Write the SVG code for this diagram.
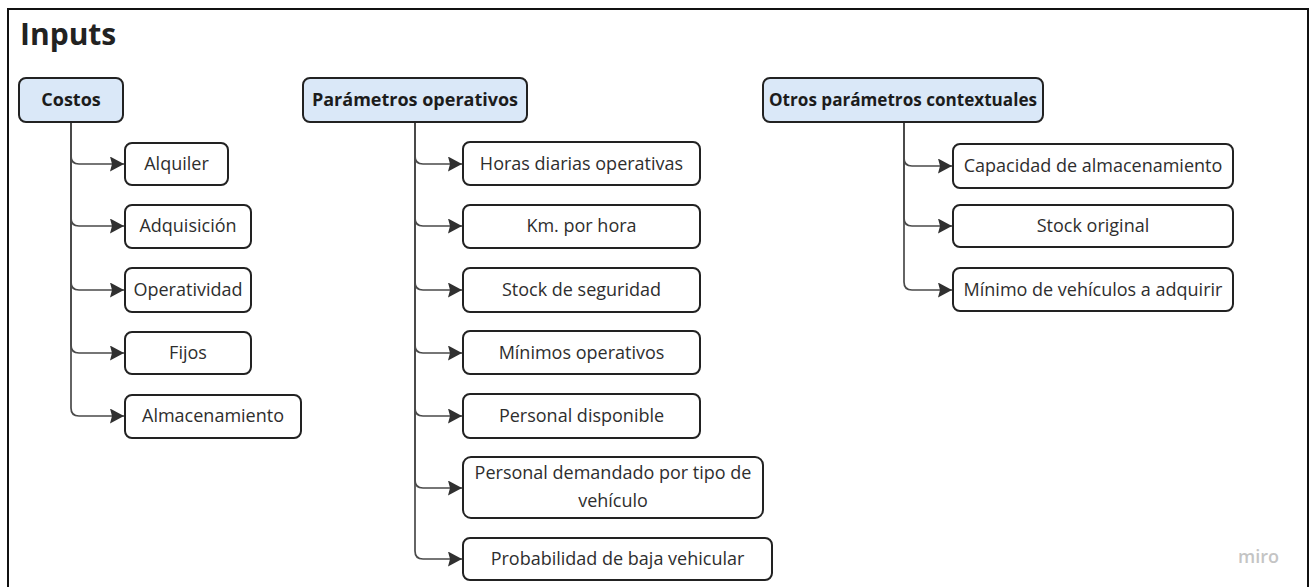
<svg xmlns="http://www.w3.org/2000/svg" width="1311" height="587" viewBox="0 0 1311 587">
  <defs>
    <style>
      .frame { fill: #ffffff; stroke: #111111; stroke-width: 2; }
      .title { font-family: "Open Sans", "Liberation Sans", sans-serif; font-weight: 700; font-size: 30px; fill: #222222; }
      .hdr rect { fill: #dae8f8; stroke: #222222; stroke-width: 2; }
      .hdr text { font-family: "Open Sans", "Liberation Sans", sans-serif; font-weight: 700; font-size: 18px; fill: #1c1c1c; text-anchor: middle; }
      .leaf rect { fill: #ffffff; stroke: #222222; stroke-width: 2; }
      .leaf text { font-family: "Open Sans", "Liberation Sans", sans-serif; font-size: 18px; fill: #2e2e2e; text-anchor: middle; }
      .conn path { fill: none; stroke: #4a4a4a; stroke-width: 1.7; marker-end: url(#arr); }
      .logo { font-family: "Open Sans", "Liberation Sans", sans-serif; font-size: 18px; font-weight: 600; fill: #c4c4c4; }
    </style>
    <marker id="arr" markerUnits="userSpaceOnUse" markerWidth="18" markerHeight="18" refX="14" refY="7.5" orient="auto">
      <path d="M0,0 L14,7.5 L0,15 L2,7.5 Z" fill="#303030"/>
    </marker>
  </defs>

  <rect class="frame" x="8" y="9" width="1300" height="590"/>
  <text class="title" x="20" y="45">Inputs</text>

  <g id="connectors" class="conn">
    <path d="M71,122 V156 Q71,164 79,164 H124"/>
    <path d="M71,122 V218 Q71,226 79,226 H124"/>
    <path d="M71,122 V282 Q71,290 79,290 H124"/>
    <path d="M71,122 V345 Q71,353 79,353 H124"/>
    <path d="M71,122 V408 Q71,416 79,416 H124"/>

    <path d="M415,122 V156 Q415,164 423,164 H462"/>
    <path d="M415,122 V218 Q415,226 423,226 H462"/>
    <path d="M415,122 V282 Q415,290 423,290 H462"/>
    <path d="M415,122 V345 Q415,353 423,353 H462"/>
    <path d="M415,122 V408 Q415,416 423,416 H462"/>
    <path d="M415,122 V480 Q415,488 423,488 H462"/>
    <path d="M415,122 V551 Q415,559 423,559 H462"/>

    <path d="M904,122 V158 Q904,166 912,166 H952"/>
    <path d="M904,122 V218 Q904,226 912,226 H952"/>
    <path d="M904,122 V282 Q904,290 912,290 H952"/>
  </g>

  <g id="costos" class="hdr">
    <rect x="19" y="78" width="104" height="44" rx="7"/>
    <text x="71" y="106">Costos</text>
  </g>
  <g id="parametros" class="hdr">
    <rect x="303" y="78" width="224" height="44" rx="7"/>
    <text x="415" y="106">Parámetros operativos</text>
  </g>
  <g id="otros" class="hdr">
    <rect x="763" y="78" width="280" height="44" rx="7"/>
    <text x="903" y="106" textLength="268" lengthAdjust="spacingAndGlyphs">Otros parámetros contextuales</text>
  </g>

  <g id="alquiler" class="leaf">
    <rect x="125" y="143" width="103" height="42" rx="7"/>
    <text x="176.5" y="170">Alquiler</text>
  </g>
  <g id="adquisicion" class="leaf">
    <rect x="125" y="205" width="126" height="43" rx="7"/>
    <text x="188" y="232">Adquisición</text>
  </g>
  <g id="operatividad" class="leaf">
    <rect x="125" y="268" width="126" height="44" rx="7"/>
    <text x="188" y="296">Operatividad</text>
  </g>
  <g id="fijos" class="leaf">
    <rect x="125" y="332" width="126" height="42" rx="7"/>
    <text x="188" y="359">Fijos</text>
  </g>
  <g id="almacenamiento" class="leaf">
    <rect x="125" y="395" width="176" height="43" rx="7"/>
    <text x="213" y="422">Almacenamiento</text>
  </g>

  <g id="horas" class="leaf">
    <rect x="463" y="142" width="237" height="43" rx="7"/>
    <text x="581.5" y="170">Horas diarias operativas</text>
  </g>
  <g id="km" class="leaf">
    <rect x="463" y="205" width="237" height="43" rx="7"/>
    <text x="581.5" y="232">Km. por hora</text>
  </g>
  <g id="stockseg" class="leaf">
    <rect x="463" y="268" width="237" height="44" rx="7"/>
    <text x="581.5" y="296">Stock de seguridad</text>
  </g>
  <g id="minimos" class="leaf">
    <rect x="463" y="331" width="237" height="43" rx="7"/>
    <text x="581.5" y="359">Mínimos operativos</text>
  </g>
  <g id="personaldisp" class="leaf">
    <rect x="463" y="394" width="237" height="44" rx="7"/>
    <text x="581.5" y="422">Personal disponible</text>
  </g>
  <g id="personaldem" class="leaf">
    <rect x="463" y="457" width="300" height="61" rx="8"/>
    <text x="613" y="479">Personal demandado por tipo de</text>
    <text x="613" y="507">vehículo</text>
  </g>
  <g id="probabilidad" class="leaf">
    <rect x="463" y="538" width="309" height="42" rx="7"/>
    <text x="617.5" y="565">Probabilidad de baja vehicular</text>
  </g>

  <g id="capacidad" class="leaf">
    <rect x="953" y="144" width="280" height="44" rx="7"/>
    <text x="1093" y="172">Capacidad de almacenamiento</text>
  </g>
  <g id="stockorig" class="leaf">
    <rect x="953" y="205" width="280" height="42" rx="7"/>
    <text x="1093" y="232">Stock original</text>
  </g>
  <g id="minimoveh" class="leaf">
    <rect x="953" y="268" width="280" height="43" rx="7"/>
    <text x="1093" y="296">Mínimo de vehículos a adquirir</text>
  </g>

  <text class="logo" x="1238" y="563">miro</text>
</svg>
